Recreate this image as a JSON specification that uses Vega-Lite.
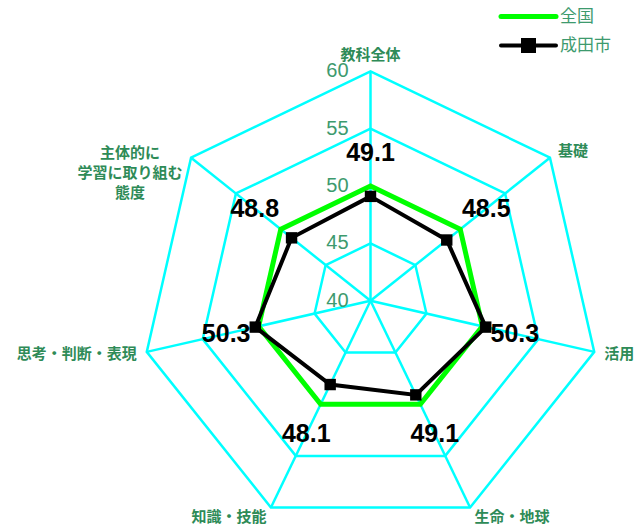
{
  "$schema": "https://vega.github.io/schema/vega-lite/v6.json",
  "width": 636,
  "height": 528,
  "padding": 0,
  "autosize": {"type": "none"},
  "background": "white",
  "config": {"view": {"stroke": null}},
  "datasets": {
    "scores": [
      {"series": "全国", "idx": 0, "value": 50},
      {"series": "全国", "idx": 1, "value": 50},
      {"series": "全国", "idx": 2, "value": 50},
      {"series": "全国", "idx": 3, "value": 50},
      {"series": "全国", "idx": 4, "value": 50},
      {"series": "全国", "idx": 5, "value": 50},
      {"series": "全国", "idx": 6, "value": 50},
      {"series": "成田市", "idx": 0, "value": 49.1},
      {"series": "成田市", "idx": 1, "value": 48.5},
      {"series": "成田市", "idx": 2, "value": 50.3},
      {"series": "成田市", "idx": 3, "value": 49.1},
      {"series": "成田市", "idx": 4, "value": 48.1},
      {"series": "成田市", "idx": 5, "value": 50.3},
      {"series": "成田市", "idx": 6, "value": 48.8}
    ],
    "axes": [
      {"idx": 0, "cat": "教科全体"},
      {"idx": 1, "cat": "基礎"},
      {"idx": 2, "cat": "活用"},
      {"idx": 3, "cat": "生命・地球"},
      {"idx": 4, "cat": "知識・技能"},
      {"idx": 5, "cat": "思考・判断・表現"},
      {"idx": 6, "cat": "主体的に\n学習に取り組む\n態度"}
    ],
    "rings": [
      {"level": 45, "idx": 0}, {"level": 45, "idx": 1}, {"level": 45, "idx": 2}, {"level": 45, "idx": 3}, {"level": 45, "idx": 4}, {"level": 45, "idx": 5}, {"level": 45, "idx": 6},
      {"level": 50, "idx": 0}, {"level": 50, "idx": 1}, {"level": 50, "idx": 2}, {"level": 50, "idx": 3}, {"level": 50, "idx": 4}, {"level": 50, "idx": 5}, {"level": 50, "idx": 6},
      {"level": 55, "idx": 0}, {"level": 55, "idx": 1}, {"level": 55, "idx": 2}, {"level": 55, "idx": 3}, {"level": 55, "idx": 4}, {"level": 55, "idx": 5}, {"level": 55, "idx": 6},
      {"level": 60, "idx": 0}, {"level": 60, "idx": 1}, {"level": 60, "idx": 2}, {"level": 60, "idx": 3}, {"level": 60, "idx": 4}, {"level": 60, "idx": 5}, {"level": 60, "idx": 6}
    ],
    "levels": [
      {"level": 40}, {"level": 45}, {"level": 50}, {"level": 55}, {"level": 60}
    ]
  },
  "layer": [
    {
      "data": {"name": "rings"},
      "transform": [
        {"calculate": "2*PI*datum.idx/7", "as": "t"},
        {"calculate": "(datum.level-40)*sin(datum.t)", "as": "x"},
        {"calculate": "(datum.level-40)*cos(datum.t)", "as": "y"}
      ],
      "mark": {"type": "line", "interpolate": "linear-closed", "color": "#00ffff", "strokeWidth": 2.5},
      "encoding": {
        "x": {"field": "x", "type": "quantitative", "scale": {"domain": [-32.288, 23.137], "nice": false, "zero": false}, "axis": null},
        "y": {"field": "y", "type": "quantitative", "scale": {"domain": [-19.799, 26.214], "nice": false, "zero": false}, "axis": null},
        "detail": {"field": "level"},
        "order": {"field": "idx"}
      }
    },
    {
      "data": {"name": "axes"},
      "transform": [
        {"calculate": "2*PI*datum.idx/7", "as": "t"},
        {"calculate": "20*sin(datum.t)", "as": "x"},
        {"calculate": "20*cos(datum.t)", "as": "y"},
        {"calculate": "0", "as": "o"}
      ],
      "mark": {"type": "rule", "color": "#00ffff", "strokeWidth": 2.5},
      "encoding": {
        "x": {"field": "o", "type": "quantitative", "scale": {"domain": [-32.288, 23.137], "nice": false, "zero": false}, "axis": null},
        "y": {"field": "o", "type": "quantitative", "scale": {"domain": [-19.799, 26.214], "nice": false, "zero": false}, "axis": null},
        "x2": {"field": "x"},
        "y2": {"field": "y"}
      }
    },
    {
      "data": {"name": "scores"},
      "transform": [
        {"filter": "datum.series === '全国'"},
        {"calculate": "2*PI*datum.idx/7", "as": "t"},
        {"calculate": "(datum.value-40)*sin(datum.t)", "as": "x"},
        {"calculate": "(datum.value-40)*cos(datum.t)", "as": "y"}
      ],
      "mark": {"type": "line", "interpolate": "linear-closed", "strokeWidth": 5},
      "encoding": {
        "x": {"field": "x", "type": "quantitative", "axis": null},
        "y": {"field": "y", "type": "quantitative", "axis": null},
        "order": {"field": "idx"},
        "color": {
          "field": "series",
          "type": "nominal",
          "scale": {"domain": ["全国", "成田市"], "range": ["#00ff00", "#000000"]},
          "legend": {
            "orient": "none",
            "legendX": 520,
            "legendY": 8,
            "title": null,
            "padding": 0,
            "rowPadding": 5,
            "symbolSize": 484,
            "labelFontSize": 17,
            "labelFont": "Noto Sans CJK JP",
            "labelColor": "#3d9a6e",
            "labelOffset": 23,
            "encode": {
              "symbols": {
                "update": {
                  "size": {"value": 484},
                  "shape": {"signal": "datum.value === '成田市' ? 'M-2.5,0H2.5M-0.5,-0.5H0.5V0.5H-0.5Z' : 'M-2.5,0H2.5'"},
                  "fill": {"signal": "datum.value === '成田市' ? '#000000' : 'transparent'"},
                  "strokeWidth": {"signal": "datum.value === '成田市' ? 4 : 5"},
                  "strokeCap": {"value": "round"}
                }
              }
            }
          }
        }
      }
    },
    {
      "data": {"name": "scores"},
      "transform": [
        {"filter": "datum.series === '成田市'"},
        {"calculate": "2*PI*datum.idx/7", "as": "t"},
        {"calculate": "(datum.value-40)*sin(datum.t)", "as": "x"},
        {"calculate": "(datum.value-40)*cos(datum.t)", "as": "y"}
      ],
      "mark": {"type": "line", "interpolate": "linear-closed", "strokeWidth": 4},
      "encoding": {
        "x": {"field": "x", "type": "quantitative", "axis": null},
        "y": {"field": "y", "type": "quantitative", "axis": null},
        "order": {"field": "idx"},
        "color": {"field": "series", "type": "nominal"}
      }
    },
    {
      "data": {"name": "scores"},
      "transform": [
        {"filter": "datum.series === '成田市'"},
        {"calculate": "2*PI*datum.idx/7", "as": "t"},
        {"calculate": "(datum.value-40)*sin(datum.t)", "as": "x"},
        {"calculate": "(datum.value-40)*cos(datum.t)", "as": "y"}
      ],
      "mark": {"type": "square", "size": 130, "color": "#000000", "opacity": 1, "filled": true},
      "encoding": {
        "x": {"field": "x", "type": "quantitative", "axis": null},
        "y": {"field": "y", "type": "quantitative", "axis": null}
      }
    },
    {
      "data": {"name": "scores"},
      "transform": [
        {"filter": "datum.series === '成田市'"},
        {"calculate": "2*PI*datum.idx/7", "as": "t"},
        {"calculate": "12.9*sin(datum.t)", "as": "x"},
        {"calculate": "12.9*cos(datum.t)", "as": "y"}
      ],
      "mark": {"type": "text", "font": "Liberation Sans", "fontWeight": "bold", "fontSize": 25, "color": "#000000", "align": "center", "baseline": "middle"},
      "encoding": {
        "x": {"field": "x", "type": "quantitative", "axis": null},
        "y": {"field": "y", "type": "quantitative", "axis": null},
        "text": {"field": "value", "type": "quantitative", "format": ".1f"}
      }
    },
    {
      "data": {"name": "levels"},
      "transform": [
        {"calculate": "0", "as": "x"},
        {"calculate": "datum.level-40", "as": "y"}
      ],
      "mark": {"type": "text", "font": "Liberation Sans", "fontSize": 20, "color": "#3d9a6e", "align": "right", "baseline": "middle", "dx": -22},
      "encoding": {
        "x": {"field": "x", "type": "quantitative", "axis": null},
        "y": {"field": "y", "type": "quantitative", "axis": null},
        "text": {"field": "level", "type": "quantitative"}
      }
    },
    {
      "data": {"name": "axes"},
      "transform": [
        {"filter": "datum.idx === 0"},
        {"calculate": "2*PI*datum.idx/7", "as": "t"},
        {"calculate": "21.4*sin(datum.t)", "as": "x"},
        {"calculate": "21.4*cos(datum.t)", "as": "y"}
      ],
      "mark": {"type": "text", "font": "Noto Sans CJK JP", "fontWeight": "bold", "fontSize": 15, "color": "#2e8b57", "align": "center", "baseline": "middle"},
      "encoding": {
        "x": {"field": "x", "type": "quantitative", "axis": null},
        "y": {"field": "y", "type": "quantitative", "axis": null},
        "text": {"field": "cat"}
      }
    },
    {
      "data": {"name": "axes"},
      "transform": [
        {"filter": "datum.idx >= 1 && datum.idx <= 3"},
        {"calculate": "2*PI*datum.idx/7", "as": "t"},
        {"calculate": "20.9*sin(datum.t)", "as": "x"},
        {"calculate": "20.9*cos(datum.t)", "as": "y"}
      ],
      "mark": {"type": "text", "font": "Noto Sans CJK JP", "fontWeight": "bold", "fontSize": 15, "color": "#2e8b57", "align": "left", "baseline": "middle"},
      "encoding": {
        "x": {"field": "x", "type": "quantitative", "axis": null},
        "y": {"field": "y", "type": "quantitative", "axis": null},
        "text": {"field": "cat"}
      }
    },
    {
      "data": {"name": "axes"},
      "transform": [
        {"filter": "datum.idx >= 4 && datum.idx <= 5"},
        {"calculate": "2*PI*datum.idx/7", "as": "t"},
        {"calculate": "20.9*sin(datum.t)", "as": "x"},
        {"calculate": "20.9*cos(datum.t)", "as": "y"}
      ],
      "mark": {"type": "text", "font": "Noto Sans CJK JP", "fontWeight": "bold", "fontSize": 15, "color": "#2e8b57", "align": "right", "baseline": "middle"},
      "encoding": {
        "x": {"field": "x", "type": "quantitative", "axis": null},
        "y": {"field": "y", "type": "quantitative", "axis": null},
        "text": {"field": "cat"}
      }
    },
    {
      "data": {"name": "axes"},
      "transform": [
        {"filter": "datum.idx === 6"},
        {"calculate": "2*PI*datum.idx/7", "as": "t"},
        {"calculate": "20.9*sin(datum.t)", "as": "x"},
        {"calculate": "20.9*cos(datum.t)", "as": "y"}
      ],
      "mark": {"type": "text", "font": "Noto Sans CJK JP", "fontWeight": "bold", "fontSize": 15, "color": "#2e8b57", "align": "center", "baseline": "middle", "lineBreak": "\n", "lineHeight": 20, "dx": -53, "dy": 2},
      "encoding": {
        "x": {"field": "x", "type": "quantitative", "axis": null},
        "y": {"field": "y", "type": "quantitative", "axis": null},
        "text": {"field": "cat"}
      }
    }
  ]
}
